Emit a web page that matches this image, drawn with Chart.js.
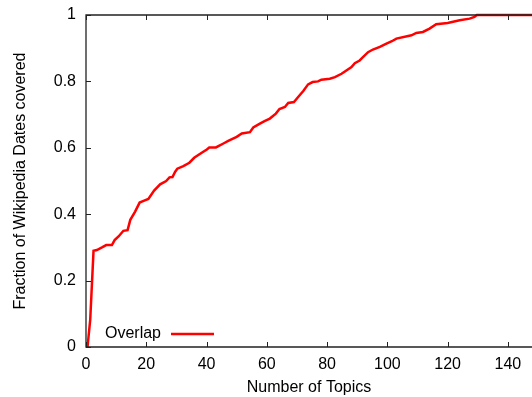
<!DOCTYPE html>
<html>
<head>
<meta charset="utf-8">
<script src="https://cdn.jsdelivr.net/npm/chart.js@4.4.1/dist/chart.umd.min.js"></script>
<style>
  html, body { margin: 0; padding: 0; background: #fff; overflow: hidden; }
  #wrap { width: 532px; height: 397px; }
</style>
</head>
<body>
<div id="wrap"><canvas id="cov" width="532" height="397"></canvas></div>
<script>
// значения
const topics = [0.5, 1.4, 2.5, 3.6, 5.3, 6.7, 8.6, 9.5, 10.8, 12.4, 13.8, 14.7, 16.3, 17.8, 19.1, 20.7,
    22.6, 24.6, 26.6, 27.7, 28.7, 29.6, 30.3, 32.3, 34.3, 35.9, 38.4, 40.1, 40.9, 43.1, 45.6, 47.2,
    50, 51.7, 54.4, 55.5, 57.7, 59.4, 61, 63, 64.2, 66, 67.1, 69, 70.4, 72.1, 73.7, 75.2, 77, 78.1,
    80.9, 82.6, 84.8, 86.4, 88.1, 89.2, 90.8, 91.9, 93.6, 95.2, 97.5, 99.7, 101.5, 103, 108, 109.6,
    111.8, 114, 116.2, 120, 124, 127.3, 128.9, 129.7, 148];
const overlap = [0, 0.082, 0.29, 0.292, 0.30, 0.307, 0.307, 0.322, 0.333, 0.35, 0.352, 0.383, 0.408, 0.435, 0.44, 0.446,
    0.471, 0.49, 0.50, 0.511, 0.512, 0.528, 0.537, 0.545, 0.555, 0.57, 0.585, 0.595, 0.601, 0.601, 0.613, 0.621,
    0.633, 0.643, 0.647, 0.661, 0.673, 0.681, 0.688, 0.703, 0.717, 0.723, 0.735, 0.738, 0.753, 0.771, 0.791, 0.798, 0.80, 0.805,
    0.808, 0.813, 0.823, 0.833, 0.843, 0.855, 0.863, 0.873, 0.888, 0.896, 0.904, 0.914, 0.921, 0.929, 0.939, 0.946,
    0.949, 0.959, 0.972, 0.976, 0.984, 0.989, 0.994, 1.0, 1.0];
const xTicks = [0, 20, 40, 60, 80, 100, 120, 140];
const yTicks = [0, 0.2, 0.4, 0.6, 0.8, 1];

const FONT = 'Liberation Sans, Arial, Helvetica, sans-serif';

// рамка в стиле gnuplot: линии и засечки внутрь
const borderPlugin = {
    id: 'gpBorder',
    afterDatasetsDraw(chart) {
        const { ctx, chartArea: a, scales } = chart;
        ctx.save();
        ctx.strokeStyle = '#222';
        ctx.lineWidth = 1.3;
        ctx.beginPath();
        ctx.moveTo(a.right + 1, a.top);
        ctx.lineTo(a.left, a.top);
        ctx.lineTo(a.left, a.bottom);
        ctx.lineTo(a.right + 1, a.bottom);
        ctx.stroke();
        ctx.lineWidth = 1;
        ctx.beginPath();
        xTicks.forEach(v => {
            const px = Math.round(scales.x.getPixelForValue(v)) + 0.5;
            ctx.moveTo(px, a.bottom); ctx.lineTo(px, a.bottom - 5);
            ctx.moveTo(px, a.top); ctx.lineTo(px, a.top + 5);
        });
        yTicks.forEach(v => {
            const py = Math.round(scales.y.getPixelForValue(v)) + 0.5;
            ctx.moveTo(a.left, py); ctx.lineTo(a.left + 5, py);
        });
        ctx.stroke();
        // легенда как у gnuplot: текст, потом образец линии
        const ds = chart.data.datasets[0];
        ctx.font = '16px ' + FONT;
        ctx.fillStyle = '#000';
        ctx.textAlign = 'right';
        ctx.textBaseline = 'middle';
        ctx.fillText(ds.label, 161, 334);
        ctx.strokeStyle = ds.borderColor;
        ctx.lineWidth = 2.5;
        ctx.beginPath();
        ctx.moveTo(171, 334);
        ctx.lineTo(214, 334);
        ctx.stroke();
        ctx.restore();
    }
};

const ctx = document.getElementById('cov').getContext('2d');
new Chart(ctx, {
    type: 'line',
    data: {
        datasets: [{
            label: 'Overlap',
            data: topics.map((t, i) => ({ x: t, y: overlap[i] })),
            borderColor: '#ff0000',
            borderWidth: 2.5,
            pointRadius: 0,
            tension: 0,
            fill: false,
            clip: false
        }]
    },
    options: {
        responsive: false,
        animation: false,
        events: [],
        layout: { padding: { top: 15, right: 0, left: 0, bottom: 0 } },
        plugins: {
            legend: { display: false },
            tooltip: { enabled: false }
        },
        scales: {
            x: {
                type: 'linear',
                min: 0,
                max: 148,
                afterBuildTicks: s => { s.ticks = xTicks.map(v => ({ value: v })); },
                afterFit: s => { s.height = 50; s.paddingLeft = 0; s.paddingRight = 0; },
                grid: { display: false, drawTicks: false },
                border: { display: false },
                ticks: { color: '#000', padding: 8, maxRotation: 0, font: { family: FONT, size: 16 } },
                title: {
                    display: true,
                    text: 'Number of Topics',
                    color: '#000',
                    padding: { top: 0, bottom: 0 },
                    font: { family: FONT, size: 16 }
                }
            },
            y: {
                min: 0,
                max: 1,
                afterBuildTicks: s => { s.ticks = yTicks.map(v => ({ value: v })); },
                afterFit: s => { s.width = 86; s.paddingTop = 0; s.paddingBottom = 0; },
                grid: { display: false, drawTicks: false },
                border: { display: false },
                ticks: {
                    color: '#000', padding: 10, font: { family: FONT, size: 16 },
                    callback: v => String(v)
                },
                title: {
                    display: true,
                    text: 'Fraction of Wikipedia Dates covered',
                    color: '#000',
                    padding: { top: 11, bottom: 0 },
                    font: { family: FONT, size: 16 }
                }
            }
        }
    },
    plugins: [borderPlugin]
});
</script>
</body>
</html>
